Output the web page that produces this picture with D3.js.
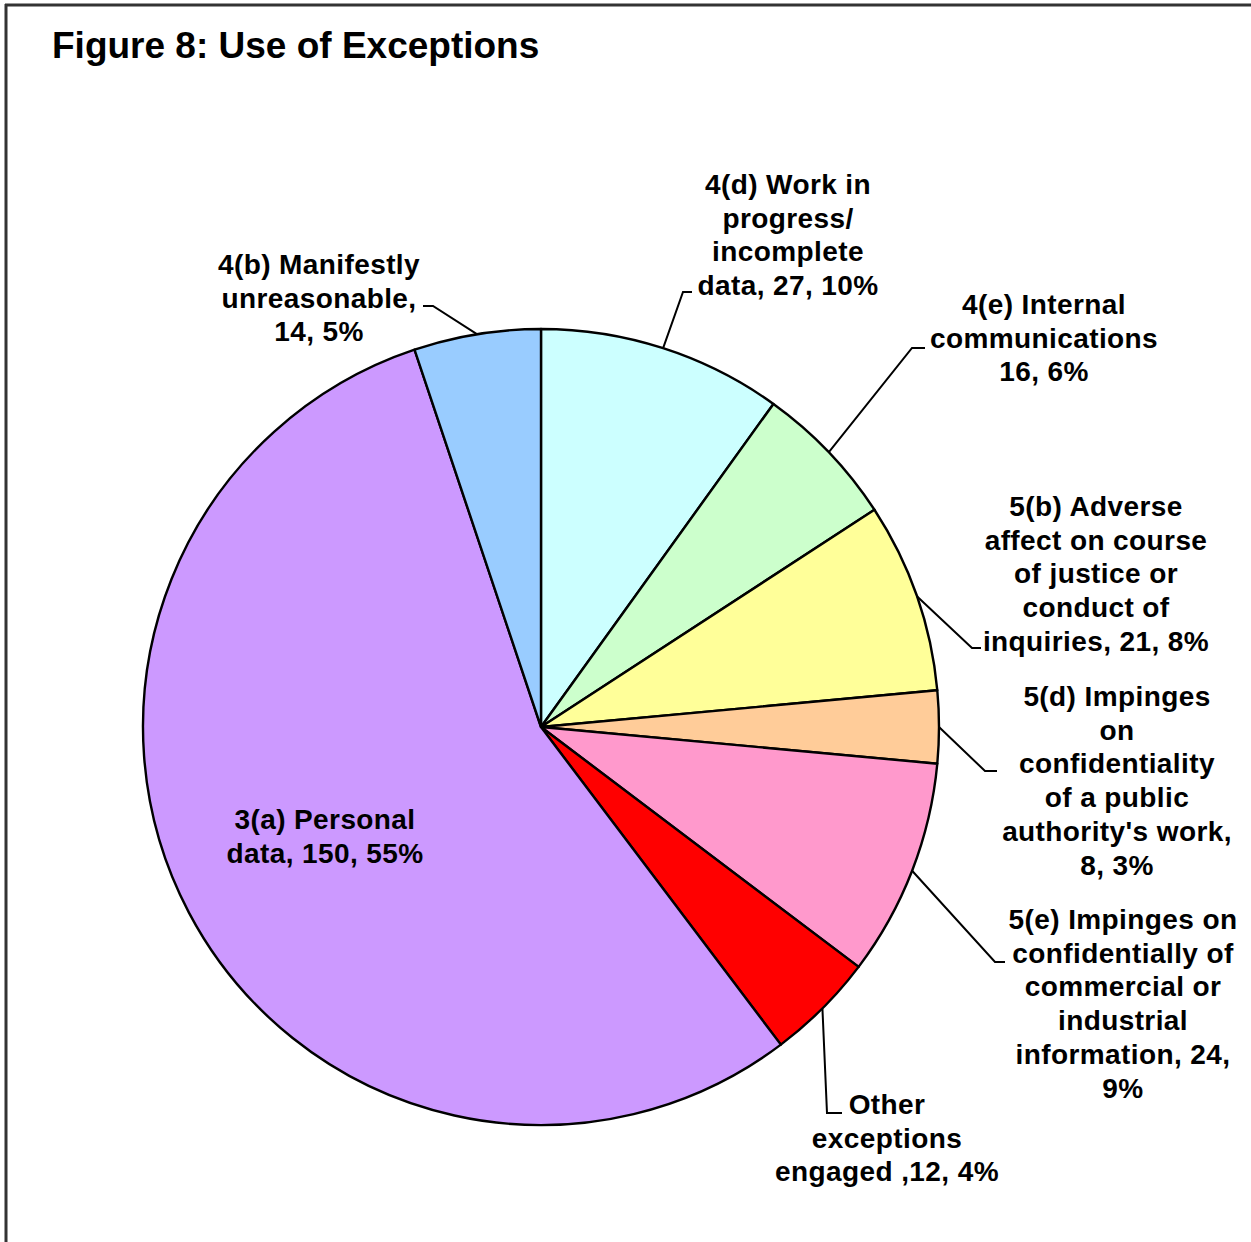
<!DOCTYPE html>
<html><head><meta charset="utf-8">
<script src="https://cdn.jsdelivr.net/npm/d3@7"></script>
<style>
html,body{margin:0;padding:0;background:#fff;}
text{font-family:"Liberation Sans",Arial,sans-serif;font-weight:bold;fill:#000;}
</style></head>
<body>
<script>
// ---- data ----
const categories = [
  "4(d) Work in progress/ incomplete data",
  "4(e) Internal communications",
  "5(b) Adverse affect on course of justice or conduct of inquiries",
  "5(d) Impinges on confidentiality of a public authority's work",
  "5(e) Impinges on confidentially of commercial or industrial information",
  "Other exceptions engaged",
  "3(a) Personal data",
  "4(b) Manifestly unreasonable"
];
const values = [27, 16, 21, 8, 24, 12, 150, 14];
const percents = ["10%", "6%", "8%", "3%", "9%", "4%", "55%", "5%"];
const labelLines = [
  ["4(d) Work in", "progress/", "incomplete", "data, 27, 10%"],
  ["4(e) Internal", "communications", "16, 6%"],
  ["5(b) Adverse", "affect on course", "of justice or", "conduct of", "inquiries, 21, 8%"],
  ["5(d) Impinges", "on", "confidentiality", "of a public", "authority's work,", "8, 3%"],
  ["5(e) Impinges on", "confidentially of", "commercial or", "industrial", "information, 24,", "9%"],
  ["Other", "exceptions", "engaged ,12, 4%"],
  ["3(a) Personal", "data, 150, 55%"],
  ["4(b) Manifestly", "unreasonable,", "14, 5%"]
];
const colors = ["#CCFFFF", "#CCFFCC", "#FFFF99", "#FFCC99", "#FF99CC", "#FF0000", "#CC99FF", "#99CCFF"];
const title = "Figure 8: Use of Exceptions";

// ---- layout (positions only) ----
const W = 1251, H = 1242;
const cx = 541, cy = 727, R = 398;
const lineH = 33.7;
const labelPos = [
  {x: 788, y: 194, elbow: [683, 292], end: [692, 292]},
  {x: 1044, y: 314, elbow: [912, 348], end: [925, 348]},
  {x: 1096, y: 516, elbow: [972, 648], end: [981, 648]},
  {x: 1117, y: 706, elbow: [985, 771], end: [997, 771]},
  {x: 1123, y: 929, elbow: [995, 962], end: [1005, 962]},
  {x: 887, y: 1114, elbow: [827, 1113], end: [842, 1113]},
  {x: 325, y: 829, elbow: null, end: null},
  {x: 319, y: 274, elbow: [433, 306], end: [423, 306]}
];

const svg = d3.select("body").append("svg").attr("width", W).attr("height", H);
svg.append("rect").attr("width", W).attr("height", H).attr("fill", "#fff");

// frame (top & left)
svg.append("line").attr("x1", 5).attr("x2", W).attr("y1", 5).attr("y2", 5)
  .attr("stroke", "#333").attr("stroke-width", 3);
svg.append("line").attr("x1", 6).attr("x2", 6).attr("y1", 4).attr("y2", H)
  .attr("stroke", "#333").attr("stroke-width", 3);

svg.append("text").attr("x", 52).attr("y", 58).attr("font-size", 37).text(title);

const pie = d3.pie().sort(null).value(d => d).startAngle(0).endAngle(2 * Math.PI);
const arcs = pie(values);
const arc = d3.arc().innerRadius(0).outerRadius(R);

const g = svg.append("g").attr("transform", `translate(${cx},${cy})`);
g.selectAll("path").data(arcs).join("path")
  .attr("d", arc)
  .attr("fill", (d, i) => colors[i])
  .attr("stroke", "#000").attr("stroke-width", 2.4).attr("stroke-linejoin", "round");

// leader lines
arcs.forEach((d, i) => {
  const p = labelPos[i];
  if (!p.elbow) return;
  const a = (d.startAngle + d.endAngle) / 2;
  const ax = cx + R * Math.sin(a), ay = cy - R * Math.cos(a);
  svg.append("polyline")
    .attr("points", [[ax, ay], p.elbow, p.end].map(q => q.join(",")).join(" "))
    .attr("fill", "none").attr("stroke", "#000").attr("stroke-width", 2);
});

// labels
labelLines.forEach((lines, i) => {
  const p = labelPos[i];
  const t = svg.append("text").attr("text-anchor", "middle").attr("font-size", 28)
    .attr("letter-spacing", 0.4);
  lines.forEach((s, j) => {
    t.append("tspan").attr("x", p.x).attr("y", p.y + j * lineH).text(s);
  });
});
</script>
</body></html>
